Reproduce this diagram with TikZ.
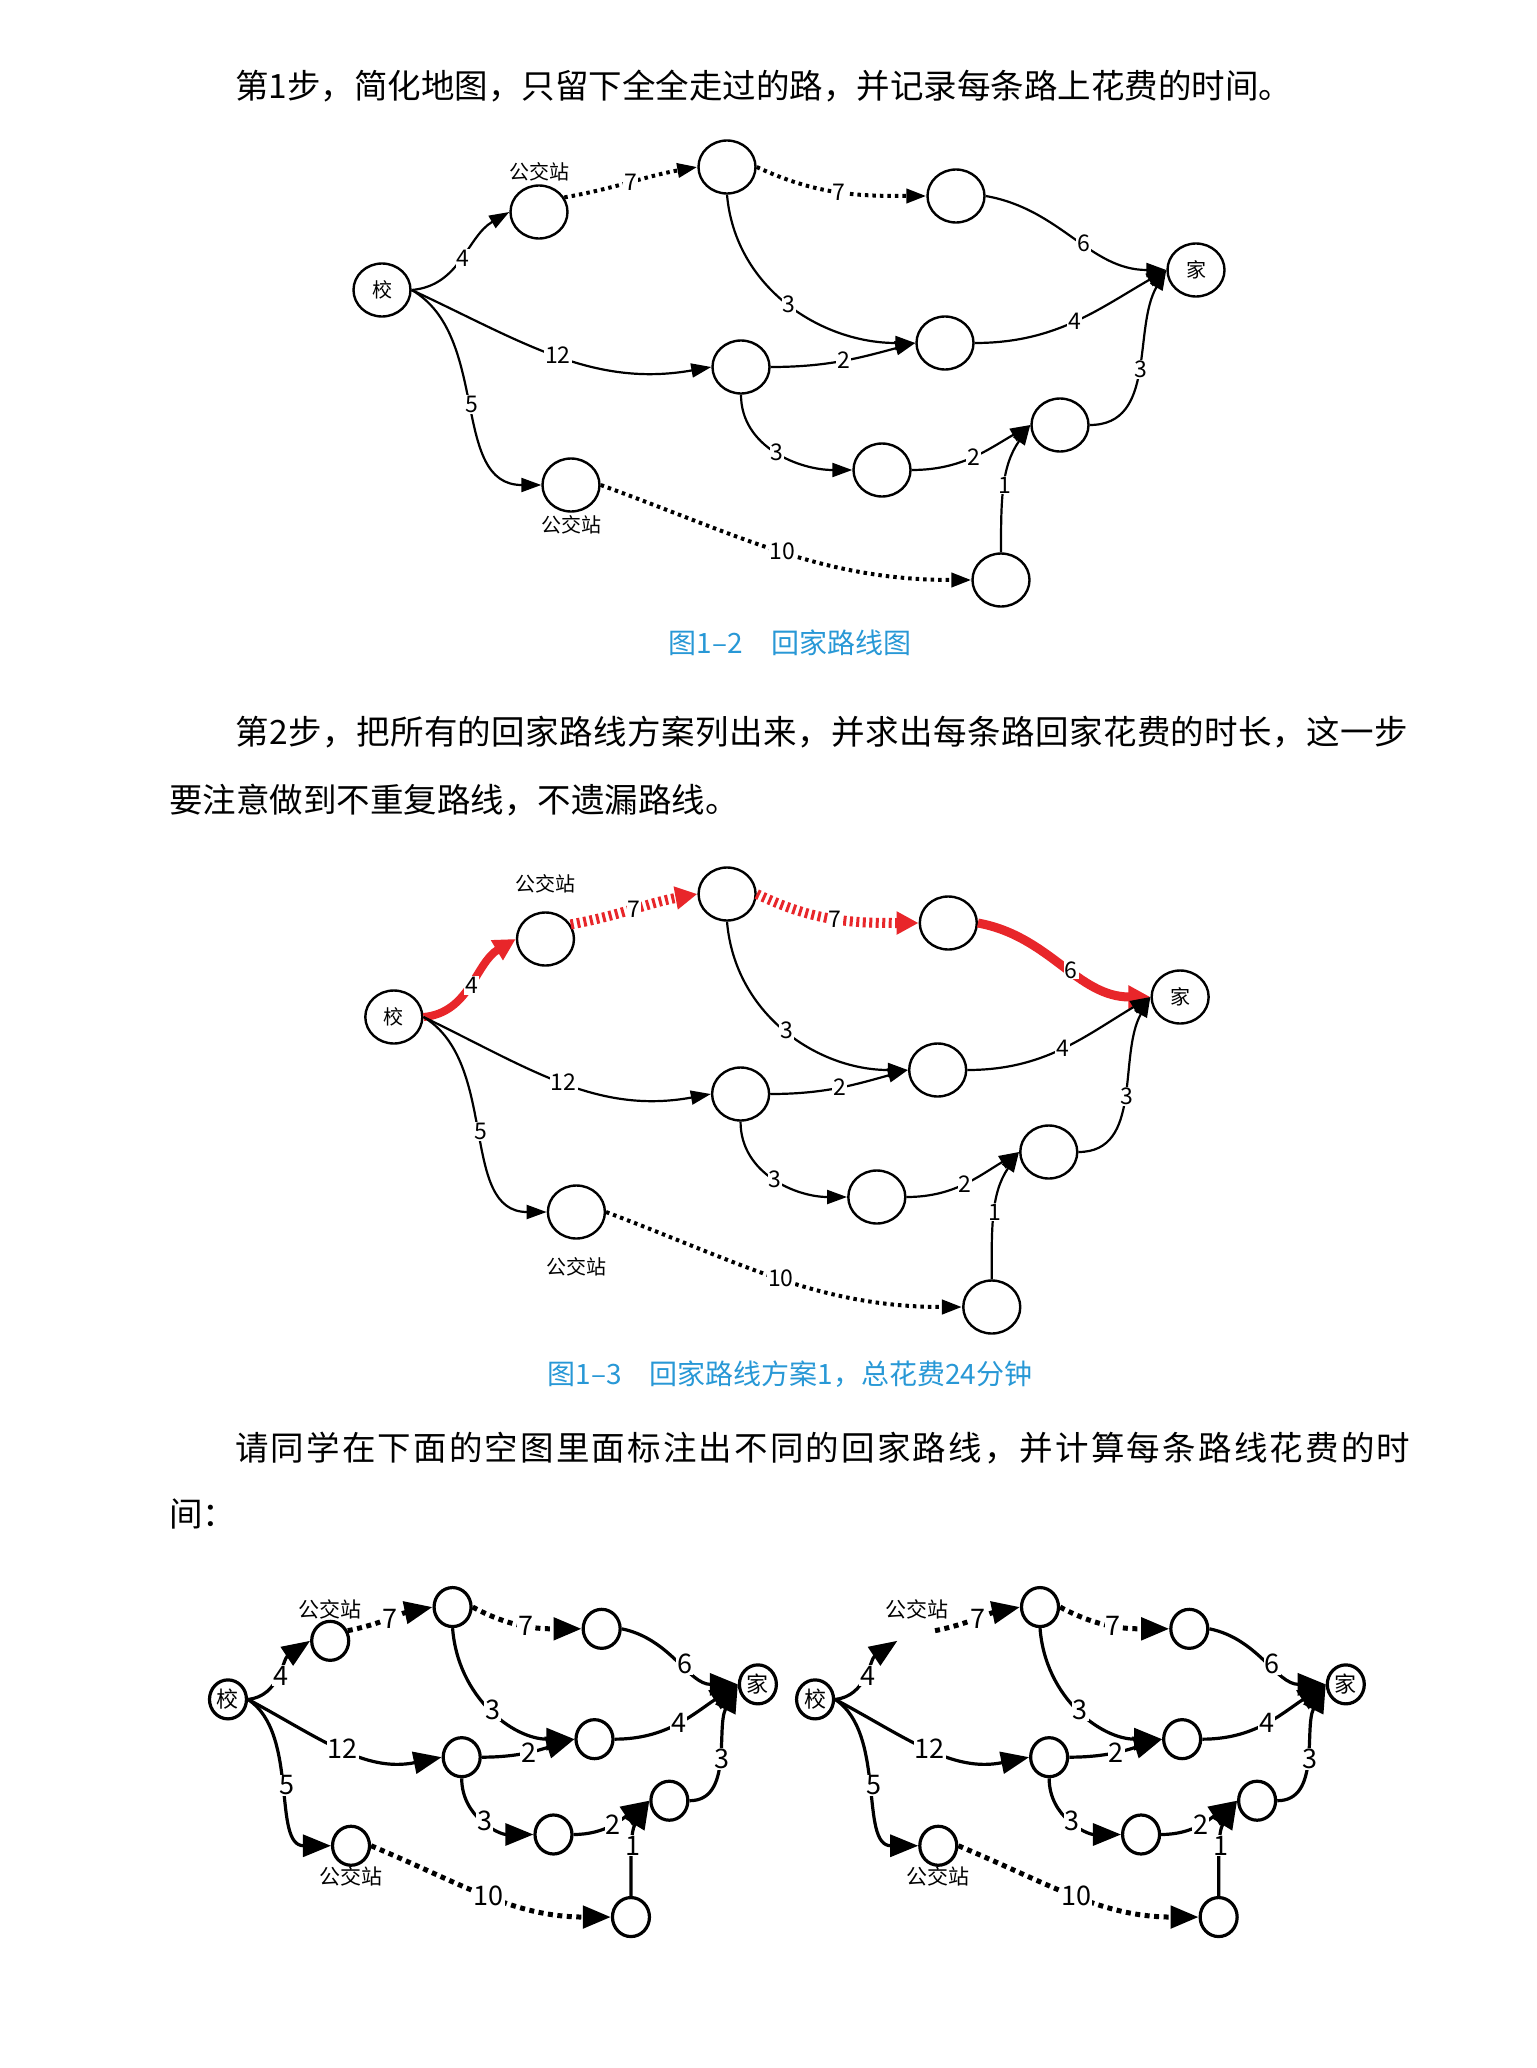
\documentclass[tikz,border=0pt]{standalone}
\usepackage{fontspec}
\setmainfont{Noto Sans CJK SC}
\usetikzlibrary{arrows.meta,shapes.geometric}

\definecolor{capblue}{RGB}{40,152,214}
\definecolor{hotred}{RGB}{232,38,42}

% spread one justified line of CJK text to a given width
\def\spreadloop#1{\ifx\relax#1\else #1\hfil\expandafter\spreadloop\fi}
\newcommand\spreadline[2]{\makebox[#1][s]{\spreadloop#2\relax\unskip}}

\tikzset{
  para/.style={anchor=west, inner sep=0pt, font=\fontsize{33.5}{40}\selectfont},
  caption/.style={inner sep=0pt, text=capblue, font=\fontsize{28}{30}\selectfont},
  spot/.style={ellipse, draw, line width=2.4pt, minimum width=57pt, minimum height=53pt,
    inner sep=0pt, font=\fontsize{20}{20}\selectfont},
  road/.style={line width=2.2pt, -{Triangle[length=20pt,width=14pt]}},
  busroad/.style={road, line width=4pt, dash pattern=on 3.5pt off 4pt},
  cost/.style={pos=0.5, fill=white, inner sep=1pt, font=\fontsize{23}{23}\selectfont},
  stopname/.style={inner sep=0pt, label distance=3pt, font=\fontsize{20}{20}\selectfont},
  firstbus/.style={},
  pick4/.style={}, pick7a/.style={}, pick7b/.style={}, pick6/.style={},
  hot/.style={draw=hotred, line width=8pt, -{Triangle[length=22pt,width=22pt]}},
  blank/.style={
    spot/.append style={line width=3.2pt, minimum width=37pt, minimum height=39pt,
      font=\fontsize{22}{22}\selectfont},
    road/.append style={line width=3.2pt, -{Triangle[length=28pt,width=22pt]}},
    busroad/.append style={line width=5pt, dash pattern=on 5pt off 4.5pt},
    cost/.append style={font=\fontsize{27}{27}\selectfont},
    stopname/.append style={label distance=0pt, font=\fontsize{21}{21}\selectfont}},
  routemap/.pic={
    \node[spot] (-s) at (382,-290) {校};
    \node[spot, firstbus, label={[stopname]90:公交站}] (-b1) at (539,-212) {};
    \node[spot] (-p) at (727,-167) {};
    \node[spot] (-q) at (956,-196) {};
    \node[spot] (-h) at (1196,-270) {家};
    \node[spot] (-m) at (741,-367) {};
    \node[spot] (-e) at (945,-343) {};
    \node[spot] (-r) at (1060,-425) {};
    \node[spot] (-f) at (882,-470) {};
    \node[spot, label={[stopname]-90:公交站}] (-b2) at (571,-485) {};
    \node[spot] (-u) at (1001,-580) {};
    \draw[road, pick4] (-s.east) to[out=5, in=210] node[cost] {4} (-b1.west);
    \draw[busroad, pick7a] (-b1.30) to[out=10, in=190] node[cost] {7} (-p.west);
    \draw[busroad, pick7b] (-p.east) to[out=-25, in=180] node[cost] {7} (-q.west);
    \draw[road] (-p.south) to[out=-85, in=180] node[cost] {3} (-e.west);
    \draw[road] (-s.east) to[out=-25, in=190] node[cost] {12} (-m.west);
    \draw[road] (-s.east) to[out=-30, in=180] node[cost] {5} (-b2.west);
    \draw[road] (-m.east) to[out=0, in=195] node[cost] {2} (-e.west);
    \draw[road] (-m.south) to[out=-90, in=180] node[cost] {3} (-f.west);
    \draw[busroad] (-b2.east) to[out=-20, in=180] node[cost] {10} (-u.west);
    \draw[road, pick6] (-q.east) to[out=-10, in=180] node[cost, pos=0.55] {6} (-h.west);
    \draw[road] (-e.east) to[out=0, in=210] node[cost] {4} (-h.west);
    \draw[road] (-r.east) to[out=0, in=240] node[cost] {3} (-h.west);
    \draw[road] (-f.east) to[out=0, in=210] node[cost] {2} (-r.west);
    \draw[road] (-u.north) to[out=90, in=235] node[cost] {1} (-r.west);
  }
}

\begin{document}
\begin{tikzpicture}[x=1pt, y=1pt]
\useasboundingbox[fill=white] (0,0) rectangle (1536,-2068);

\node[para] (step1) at (235,-86) {第1步，简化地图，只留下全全走过的路，并记录每条路上花费的时间。};
\pic (m1) at (0,0) {routemap};
\node[caption] (cap1) at (790,-643) {图1–2\quad 回家路线图};

\node[para] (step2a) at (235,-732) {\spreadline{1173pt}{第2步，把所有的回家路线方案列出来，并求出每条路回家花费的时长，这一步}};
\node[para] (step2b) at (169,-800) {要注意做到不重复路线，不遗漏路线。};
\pic[xscale=0.966, stopname/.append style={label distance=18pt},
  pick4/.style={hot}, pick7a/.style={hot, line width=10pt, dash pattern=on 3pt off 3.5pt},
  pick7b/.style={hot, line width=10pt, dash pattern=on 3pt off 3.5pt},
  pick6/.style={hot, line width=9pt}] (m2) at (24.8,-727) {routemap};
\node[caption] (cap2) at (790,-1374) {图1–3\quad 回家路线方案1，总花费24分钟};

\node[para] (ask1) at (235,-1448) {\spreadline{1175pt}{请同学在下面的空图里面标注出不同的回家路线，并计算每条路线花费的时}};
\node[para] (ask2) at (169,-1514) {间：};

% two empty maps for the pupils
\pic[xscale=0.651, yscale=0.7506, blank] (m3) at (-20.7,-1481.7) {routemap};
\pic[xscale=0.652, yscale=0.7506, blank, firstbus/.style={draw=none}] (m4) at (566,-1481.7) {routemap};
\end{tikzpicture}
\end{document}
